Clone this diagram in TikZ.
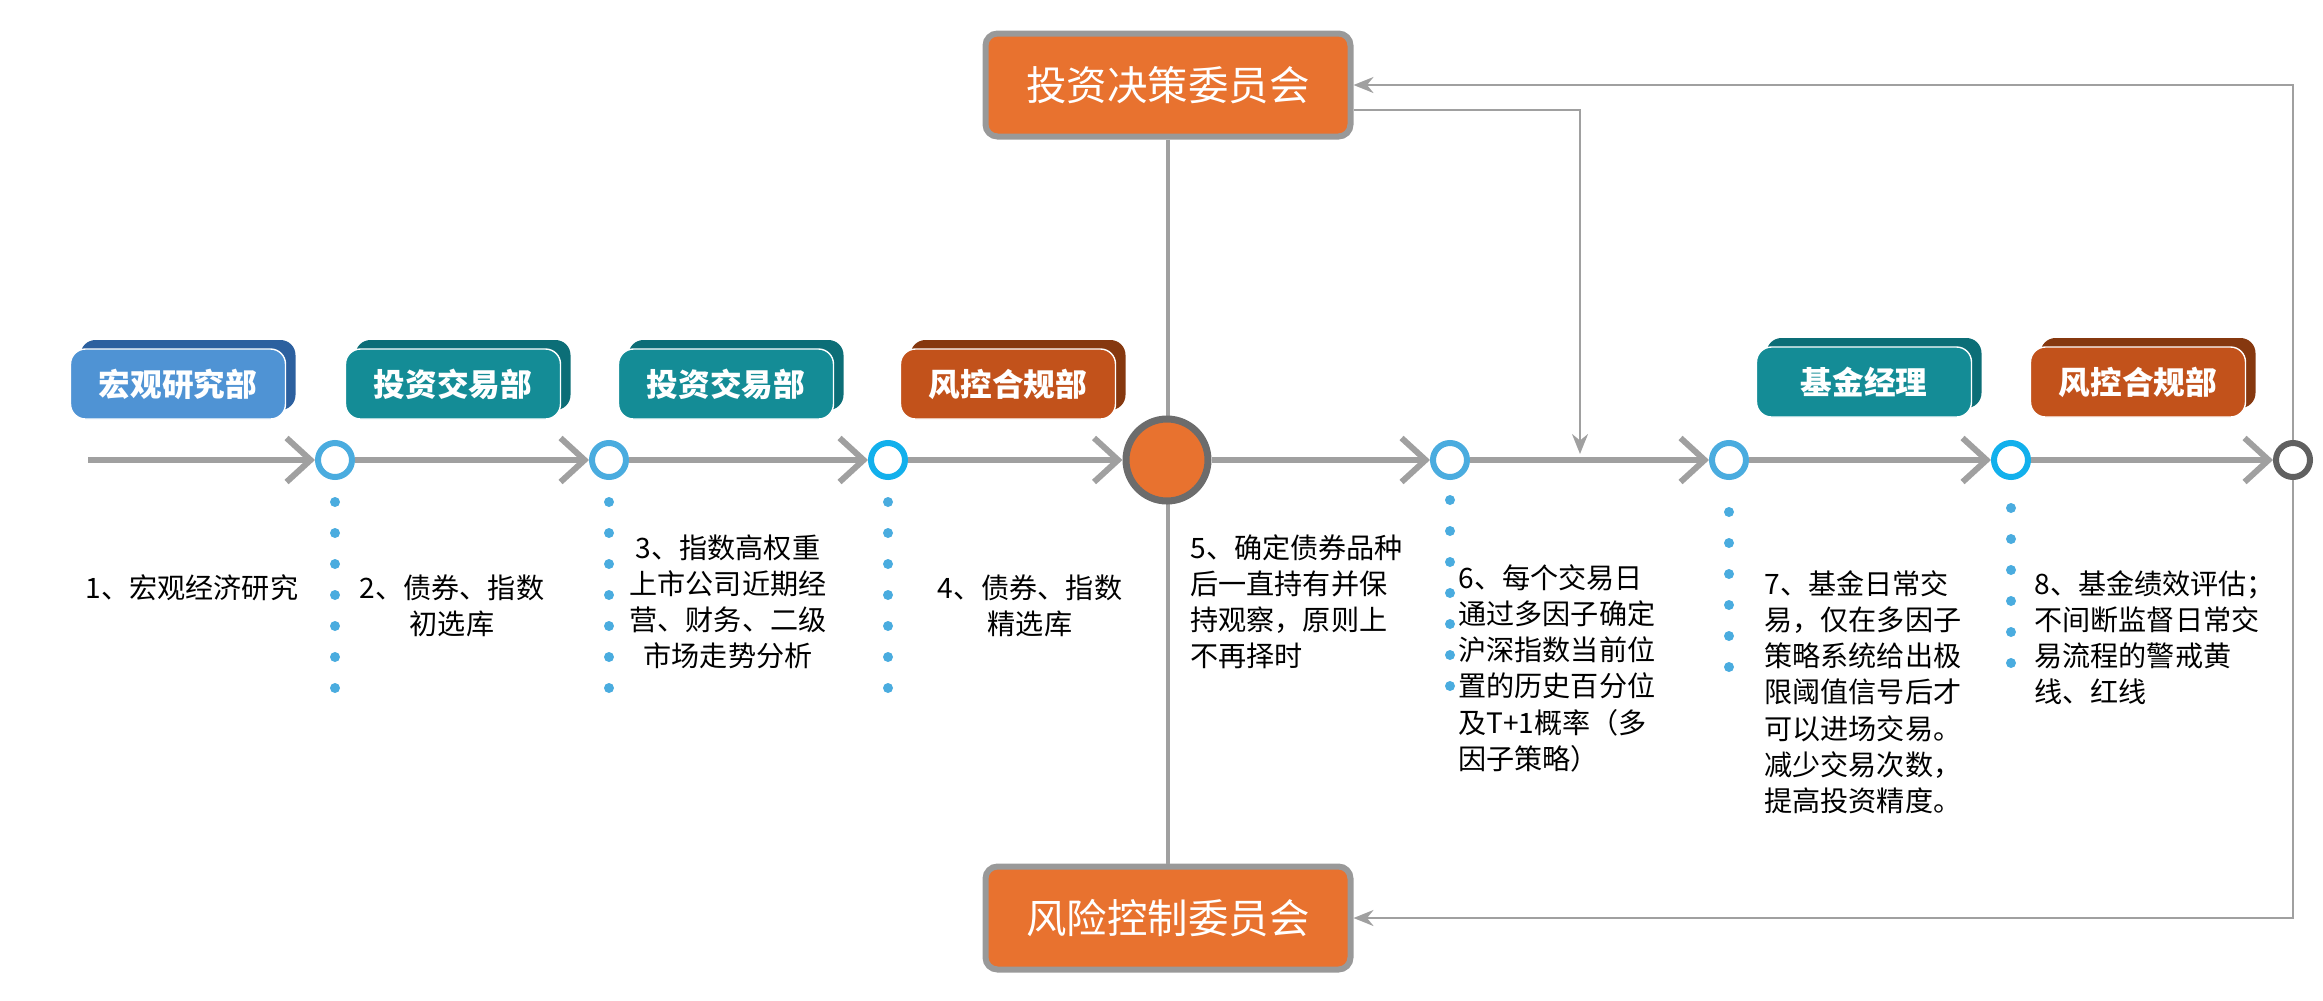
\documentclass[tikz,border=0pt]{standalone}
\usepackage{fontspec}
\setmainfont{Noto Sans CJK SC}
\usetikzlibrary{arrows.meta,shadows,calc}
\definecolor{flow}{HTML}{A0A0A0}
\definecolor{ringblue}{HTML}{4AACDF}
\definecolor{ringcyan}{HTML}{12B0EC}
\definecolor{boxorange}{HTML}{E8722F}
\definecolor{tagblue}{HTML}{4F93D4}
\definecolor{tagblueback}{HTML}{2C609F}
\definecolor{tagteal}{HTML}{148C96}
\definecolor{tagtealback}{HTML}{0C6E77}
\definecolor{tagrust}{HTML}{C2521B}
\definecolor{tagrustback}{HTML}{86380F}
\begin{document}
\begin{tikzpicture}[x=0.1mm, y=-0.1mm,
      ring/.style = {circle, draw=#1, line width=0.6mm, fill=white,
        minimum size=3.4mm, inner sep=0pt},
      hub/.style = {circle, draw=gray!85!black, line width=0.7mm,
        fill=boxorange, minimum size=8.2mm, inner sep=0pt},
      committee/.style = {shape=rectangle, rounded corners=1.2mm,
        draw=gray!80, line width=0.6mm, fill=boxorange,
        minimum width=36.5mm, minimum height=10.3mm,
        text=white, font=\fontsize{11.5pt}{12pt}\selectfont},
      tag/.style 2 args = {shape=rectangle, rounded corners=1.5mm,
        draw=white, thin, fill=#1, text=white,
        minimum width=21.5mm, minimum height=7mm,
        font=\bfseries\fontsize{9pt}{10pt}\selectfont,
        copy shadow={shadow xshift=1mm, shadow yshift=0.9mm,
          fill=#2, draw=none}},
      flowarrow/.style = {draw=flow, line width=0.6mm,
        -{Straight Barb[length=2.4mm, width=4.4mm, line width=0.6mm]}},
      feedback/.style = {draw=flow, line width=0.25mm,
        -{Stealth[length=2mm, width=1.6mm]}},
      dots/.style = {draw=ringblue, line width=1mm, line cap=round,
        dash pattern=on 0pt off 3.1mm},
      texto/.style = {anchor=north, align=center,
        font=\fontsize{8pt}{10.3pt}\selectfont},
      textl/.style = {anchor=north west, align=left,
        font=\fontsize{8pt}{10.3pt}\selectfont}
    ]
    \useasboundingbox (0,0) rectangle (2323,1000);

    % comites
    \node[committee] (invest) at (1168,85) {投资决策委员会};
    \node[committee] (risk) at (1168,918) {风险控制委员会};
    \draw[flow, line width=0.35mm] (invest.south) -- (risk.north);

    % linea de tiempo
    \coordinate (start) at (88,460);
    \node[ring=ringblue] (c1) at (335,460) {};
    \node[ring=ringblue] (c2) at (609,460) {};
    \node[ring=ringcyan] (c3) at (888,460) {};
    \node[hub] (c5) at (1167,460) {};
    \node[ring=ringblue] (c6) at (1450,460) {};
    \node[ring=ringblue] (c7) at (1729,460) {};
    \node[ring=ringcyan] (c8) at (2011,460) {};
    \node[ring=gray!75!black] (cend) at (2293,460) {};

    \draw[flowarrow] (start) -- (c1);
    \draw[flowarrow] (c1) -- (c2);
    \draw[flowarrow] (c2) -- (c3);
    \draw[flowarrow] (c3) -- (c5);
    \draw[flowarrow] (c5) -- (c6);
    \draw[flowarrow] (c6) -- (c7);
    \draw[flowarrow] (c7) -- (c8);
    \draw[flowarrow] (c8) -- (cend);

    % retroalimentacion
    \coordinate (branch) at (1580,110);
    \draw[feedback] (cend.north) |- (invest.east);
    \draw[feedback] (cend.south) |- (risk.east);
    \draw[feedback] (invest.east |- branch) -- (branch) -- ($(branch |- c6)+(0,-6)$);

    % departamentos
    \node[tag={tagblue}{tagblueback}] (macro) at (178,384) {宏观研究部};
    \node[tag={tagteal}{tagtealback}] (trade1) at (453,384) {投资交易部};
    \node[tag={tagteal}{tagtealback}] (trade2) at (726,384) {投资交易部};
    \node[tag={tagrust}{tagrustback}] (comp1) at (1008,384) {风控合规部};
    \node[tag={tagteal}{tagtealback}] (manager) at (1864,382) {基金经理};
    \node[tag={tagrust}{tagrustback}] (comp2) at (2138,382) {风控合规部};

    % puntos
    \foreach \c/\y in {c1/502, c2/502, c3/502, c6/500, c7/512, c8/508}{
      \coordinate (\c end) at (\c.center |- 0,690);
      \draw[dots] (\c.center |- 0,\y) -- (\c end);
    }

    % textos
    \node[texto] (t1) at (192,562) {1、宏观经济研究};
    \node[texto] (t2) at (452,562) {2、债券、指数\\初选库};
    \node[texto] (t3) at (728,522) {3、指数高权重\\上市公司近期经\\营、财务、二级\\市场走势分析};
    \node[texto] (t4) at (1030,562) {4、债券、指数\\精选库};
    \node[textl] (t5) at (1178,522) {5、确定债券品种\\后一直持有并保\\持观察，原则上\\不再择时};
    \node[textl] (t6) at (1446,552) {6、每个交易日\\通过多因子确定\\沪深指数当前位\\置的历史百分位\\及T+1概率（多\\因子策略）};
    \node[textl] (t7) at (1752,558) {7、基金日常交\\易，仅在多因子\\策略系统给出极\\限阈值信号后才\\可以进场交易。\\减少交易次数，\\提高投资精度。};
    \node[textl] (t8) at (2022,558) {8、基金绩效评估；\\不间断监督日常交\\易流程的警戒黄\\线、红线};
\end{tikzpicture}
\end{document}
